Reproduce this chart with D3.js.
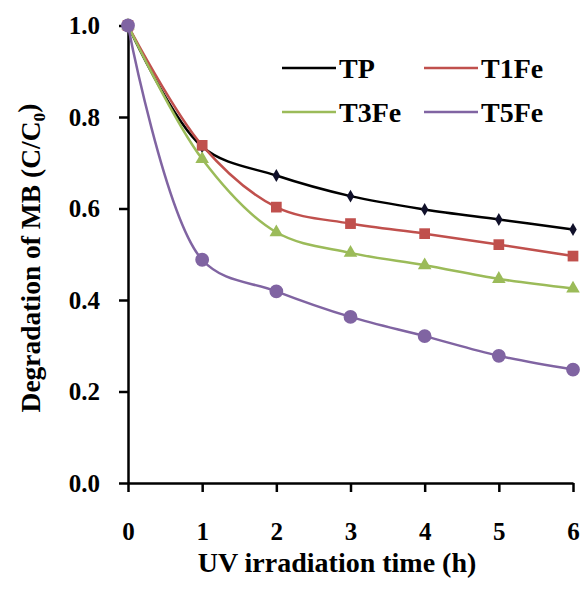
<!DOCTYPE html>
<html>
<head>
<meta charset="utf-8">
<script src="https://cdn.jsdelivr.net/npm/d3@7"></script>
<style>
  body { margin: 0; background: #fff; }
  text { font-family: "Liberation Serif", "Times New Roman", serif; font-weight: bold; }
</style>
</head>
<body>
<div id="chart"></div>
<script>
// Data
const hours = [0, 1, 2, 3, 4, 5, 6];
const seriesNames = ["TP", "T1Fe", "T3Fe", "T5Fe"];
const tpValues   = [1, 0.735, 0.672, 0.627, 0.598, 0.576, 0.554];
const t1feValues = [1, 0.738, 0.603, 0.567, 0.545, 0.521, 0.496];
const t3feValues = [1, 0.708, 0.548, 0.503, 0.476, 0.446, 0.425];
const t5feValues = [1, 0.488, 0.419, 0.363, 0.321, 0.278, 0.248];
const yTicks = [0, 0.2, 0.4, 0.6, 0.8, 1.0];

const width = 585;
const height = 590;

const svg = d3.select("#chart")
    .append("svg")
    .attr("width", width)
    .attr("height", height);

// Scales
const x = d3.scaleLinear().domain([0, 6]).range([128, 573]);
const y = d3.scaleLinear().domain([0, 1]).range([483, 25.5]);

// Style per series
const colors = d3.scaleOrdinal()
    .domain(seriesNames)
    .range(["#000000", "#c0504d", "#9bbb59", "#8064a2"]);
const markerFill = d3.scaleOrdinal()
    .domain(seriesNames)
    .range(["#10102a", "#c0504d", "#9bbb59", "#8064a2"]);
const shapes = d3.scaleOrdinal()
    .domain(seriesNames)
    .range([
        d3.symbol(d3.symbolDiamond, 48),
        d3.symbol(d3.symbolSquare, 115),
        d3.symbol(d3.symbolTriangle, 80),
        d3.symbol(d3.symbolCircle, 150)
    ]);

const series = [
    { name: "TP", values: tpValues },
    { name: "T1Fe", values: t1feValues },
    { name: "T3Fe", values: t3feValues },
    { name: "T5Fe", values: t5feValues }
];

// X axis
const xAxis = svg.append("g")
    .attr("transform", `translate(0,${y(0)})`)
    .call(d3.axisBottom(x).tickValues(hours).tickFormat(d3.format("d"))
        .tickSize(9).tickSizeOuter(0).tickPadding(30));
xAxis.select(".domain").attr("stroke-width", 2.5);
xAxis.selectAll(".tick line").attr("stroke-width", 2.5);
xAxis.selectAll("text")
    .attr("font-family", "Liberation Serif")
    .attr("font-size", 25)
    .attr("fill", "#000");

// Y axis
const yAxis = svg.append("g")
    .attr("transform", `translate(${x(0)},0)`)
    .call(d3.axisLeft(y).tickValues(yTicks).tickFormat(d3.format(".1f"))
        .tickSize(9).tickSizeOuter(0).tickPadding(19));
yAxis.select(".domain").attr("stroke-width", 2.5);
yAxis.selectAll(".tick line").attr("stroke-width", 2.5);
yAxis.selectAll("text")
    .attr("font-family", "Liberation Serif")
    .attr("font-size", 25)
    .attr("fill", "#000");

// Axis titles
svg.append("text")
    .attr("x", 337)
    .attr("y", 572)
    .attr("text-anchor", "middle")
    .attr("font-size", 28)
    .text("UV irradiation time (h)");

const yTitle = svg.append("text")
    .attr("transform", "translate(30,258) rotate(-90)")
    .attr("text-anchor", "middle")
    .attr("dy", "0.35em")
    .attr("font-size", 27.5);
yTitle.append("tspan").text("Degradation of MB (C/C");
yTitle.append("tspan").attr("font-size", 17.5).attr("dy", "0.3em").text("0");
yTitle.append("tspan").attr("dy", "-0.3em").text(")");

// Lines and markers
const line = d3.line()
    .x((d, i) => x(hours[i]))
    .y(d => y(d))
    .curve(d3.curveCatmullRom.alpha(0.5));

series.forEach(s => {
    const g = svg.append("g");
    g.append("path")
        .datum(s.values)
        .attr("fill", "none")
        .attr("stroke", colors(s.name))
        .attr("stroke-width", 2.5)
        .attr("d", line);
    g.selectAll("path.marker")
        .data(s.values)
        .enter().append("path")
        .attr("class", "marker")
        .attr("transform", (d, i) => `translate(${x(hours[i])},${y(d)})`)
        .attr("fill", markerFill(s.name))
        .attr("d", shapes(s.name));
});

// Legend
const legendPos = [
    { x: 282, y: 68 },
    { x: 424, y: 68 },
    { x: 282, y: 112 },
    { x: 424, y: 112 }
];
const legend = svg.append("g")
    .selectAll("g")
    .data(seriesNames)
    .enter().append("g")
    .attr("transform", (d, i) => `translate(${legendPos[i].x},${legendPos[i].y})`);

legend.append("line")
    .attr("x1", 0)
    .attr("x2", 54)
    .attr("stroke", d => colors(d))
    .attr("stroke-width", 2.5);

legend.append("path")
    .attr("transform", "translate(27,0)")
    .attr("fill", d => markerFill(d))
    .attr("d", d => shapes(d));

legend.append("text")
    .attr("x", 57)
    .attr("dy", "0.35em")
    .attr("font-size", 28)
    .text(d => d);
</script>
</body>
</html>
